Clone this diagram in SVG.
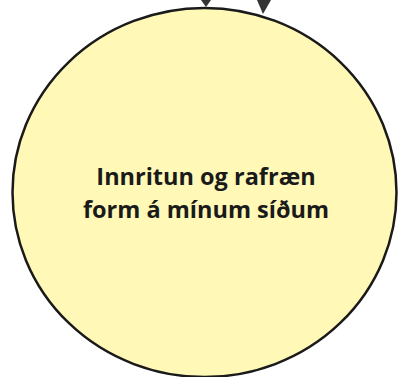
<svg xmlns="http://www.w3.org/2000/svg" width="398" height="377" viewBox="0 0 398 377">
<style>
.node{fill:#fff8b6;stroke:#1a1a1a;stroke-width:2.5}
.lbl{font-family:"Open Sans","Noto Sans",sans-serif;font-weight:700;font-size:23.5px;fill:#1a1a1a;text-anchor:middle}
.ah{fill:#333333}
</style>
<rect width="398" height="377" fill="#ffffff"/>
<g id="node-innritun">
<ellipse class="node" cx="204.5" cy="192.5" rx="192" ry="184.5"/>
<text class="lbl" x="206" y="185">Innritun og rafræn</text>
<text class="lbl" x="206" y="218">form á mínum síðum</text>
</g>
<g id="connectors">
<polygon class="ah" points="201,0 211,0 206,7"/>
<polygon class="ah" points="257,0 271,0 263,14"/>
</g>
</svg>
